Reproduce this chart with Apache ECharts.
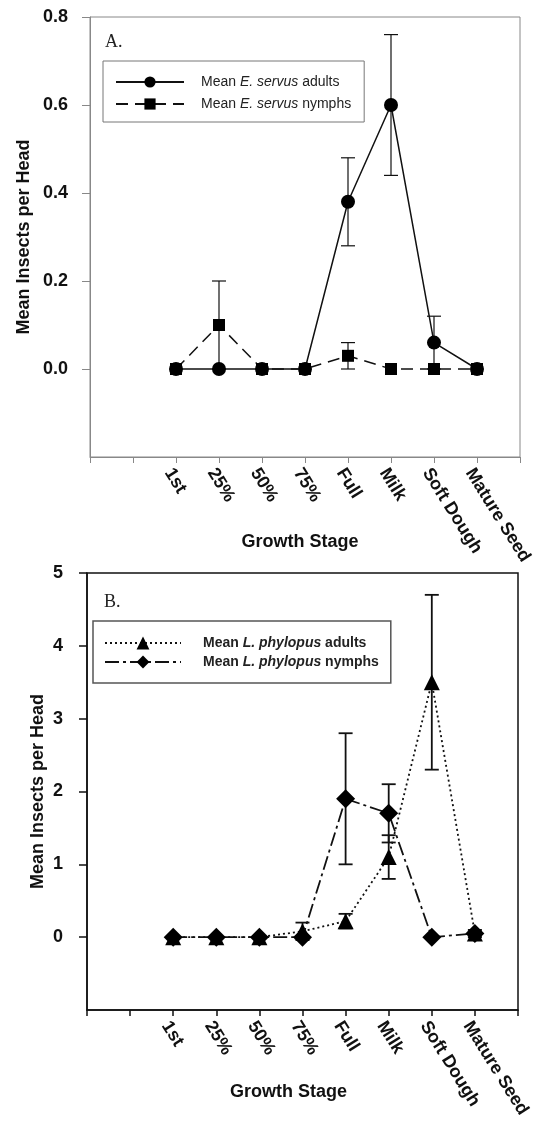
<!DOCTYPE html>
<html>
<head>
<meta charset="utf-8">
<script src="https://cdn.jsdelivr.net/npm/echarts@6/dist/echarts.min.js"></script>
<style>
  html, body { margin: 0; padding: 0; background: #fff; }
  #main { width: 542px; height: 1128px; }
</style>
</head>
<body>
<div id="main"></div>
<script>
// growth stages (two blank slots before, one after, like the original axis)
var stageNames = ['1st', '25%', '50%', '75%', 'Full', 'Milk', 'Soft Dough', 'Mature Seed'];
var axisCats = ['', ''].concat(stageNames).concat(['']);

// panel A - E. servus
var esAdults = [0, 0, 0, 0, 0.38, 0.60, 0.06, 0];
var esAdultsErr = [0, 0, 0, 0, 0.10, 0.16, 0.06, 0];
var esNymphs = [0, 0.10, 0, 0, 0.03, 0, 0, 0];
var esNymphsErr = [0, 0.10, 0, 0, 0.03, 0, 0, 0];

// panel B - L. phylopus
var lpAdults = [0, 0, 0, 0.08, 0.22, 1.1, 3.5, 0.05];
var lpAdultsErr = [0, 0, 0, 0.12, 0.10, 0.30, 1.2, 0.05];
var lpNymphs = [0, 0, 0, 0, 1.9, 1.7, 0, 0.05];
var lpNymphsErr = [0, 0, 0, 0, 0.9, 0.4, 0, 0.03];

var yTicksA = [0, 0.2, 0.4, 0.6, 0.8];
var yTicksB = [0, 1, 2, 3, 4, 5];

function pts(vals) {
  return vals.map(function (v, i) { return [i + 2, v]; });
}
function errPts(vals, errs) {
  var out = [];
  for (var i = 0; i < vals.length; i++) {
    if (errs[i] > 0) out.push([i + 2, vals[i] - errs[i], vals[i] + errs[i]]);
  }
  return out;
}

function errorBars(grid, vals, errs, lw) {
  return {
    type: 'custom',
    xAxisIndex: grid, yAxisIndex: grid,
    z: 1,
    silent: true,
    data: errPts(vals, errs),
    renderItem: function (params, api) {
      var x = api.value(0);
      var lo = api.coord([x, api.value(1)]);
      var hi = api.coord([x, api.value(2)]);
      var w = 7;
      var st = { stroke: '#111', lineWidth: lw };
      return {
        type: 'group',
        children: [
          { type: 'line', shape: { x1: lo[0], y1: lo[1], x2: hi[0], y2: hi[1] }, style: st },
          { type: 'line', shape: { x1: lo[0] - w, y1: lo[1], x2: lo[0] + w, y2: lo[1] }, style: st },
          { type: 'line', shape: { x1: hi[0] - w, y1: hi[1], x2: hi[0] + w, y2: hi[1] }, style: st }
        ]
      };
    }
  };
}

var labelFont = 'Liberation Sans, Arial, sans-serif';

function xAx(grid, gap, axisCol, lw, namePad) {
  return {
    type: 'category',
    gridIndex: grid,
    data: axisCats,
    boundaryGap: false,
    name: 'Growth Stage',
    nameLocation: 'middle',
    nameGap: gap,
    nameMoveOverlap: false,
    nameTextStyle: { fontFamily: labelFont, fontWeight: 'bold', fontSize: 18, color: '#111', padding: namePad },
    axisLine: { onZero: false, lineStyle: { color: axisCol, width: lw } },
    axisTick: { alignWithLabel: true, interval: 0, length: 6, lineStyle: { color: axisCol, width: lw } },
    axisLabel: { interval: 0, rotate: -58, margin: 8, verticalAlign: 'top', fontFamily: labelFont, fontWeight: 'bold', fontSize: 18, color: '#111' },
    splitLine: { show: false }
  };
}

function yAx(grid, ticks, dec, gap, margin, axisCol, lw) {
  var step = ticks[1] - ticks[0];
  return {
    type: 'value',
    gridIndex: grid,
    min: ticks[0] - step, max: ticks[ticks.length - 1], interval: step,
    name: 'Mean Insects per Head',
    nameLocation: 'middle',
    nameGap: gap,
    nameMoveOverlap: false,
    nameTextStyle: { fontFamily: labelFont, fontWeight: 'bold', fontSize: 18, color: '#111' },
    axisLine: { show: true, onZero: false, lineStyle: { color: axisCol, width: lw } },
    axisTick: { show: true, length: 8, customValues: ticks, lineStyle: { color: axisCol, width: lw } },
    axisLabel: {
      margin: margin, fontFamily: labelFont, fontWeight: 'bold', fontSize: 18, color: '#111',
      customValues: ticks,
      formatter: function (v) { return v.toFixed(dec); }
    },
    splitLine: { show: false }
  };
}

var myChart = echarts.init(document.getElementById('main'));
var option = {
  backgroundColor: '#fff',
  animation: false,
  title: [
    { text: 'A.', left: 100, top: 28, textStyle: { fontFamily: 'Liberation Serif, Times New Roman, serif', fontWeight: 'normal', fontSize: 18, color: '#222' } },
    { text: 'B.', left: 99, top: 588, textStyle: { fontFamily: 'Liberation Serif, Times New Roman, serif', fontWeight: 'normal', fontSize: 18, color: '#222' } }
  ],
  legend: [
    {
      data: ['Mean E. servus adults', 'Mean E. servus nymphs'],
      orient: 'vertical',
      left: 103, top: 61,
      padding: [14, 13, 11, 12],
      itemGap: 8,
      itemWidth: 68, itemHeight: 14,
      borderColor: '#777', borderWidth: 1,
      formatter: function (name) {
        var parts = name.split('E. servus');
        return '{n|' + parts[0] + '}{i|E. servus}{m|' + parts[1] + '}';
      },
      textStyle: {
        rich: {
          n: { fontFamily: labelFont, fontSize: 14, color: '#222', padding: [0, 0, 0, 12] },
          i: { fontFamily: labelFont, fontSize: 14, color: '#222', fontStyle: 'italic' },
          m: { fontFamily: labelFont, fontSize: 14, color: '#222' }
        }
      }
    },
    {
      data: ['Mean L. phylopus adults', 'Mean L. phylopus nymphs'],
      orient: 'vertical',
      left: 93, top: 621,
      padding: [15, 12, 14, 11],
      itemGap: 5,
      itemWidth: 76, itemHeight: 16,
      borderColor: '#555', borderWidth: 1.5,
      formatter: function (name) {
        var parts = name.split('L. phylopus');
        return '{n|' + parts[0] + '}{i|L. phylopus}{m|' + parts[1] + '}';
      },
      textStyle: {
        rich: {
          n: { fontFamily: labelFont, fontSize: 14, fontWeight: 'bold', color: '#222', padding: [0, 0, 0, 17] },
          i: { fontFamily: labelFont, fontSize: 14, fontWeight: 'bold', color: '#222', fontStyle: 'italic' },
          m: { fontFamily: labelFont, fontSize: 14, fontWeight: 'bold', color: '#222' }
        }
      }
    }
  ],
  grid: [
    { left: 90, top: 17, width: 430, height: 440, show: true, borderColor: '#888', borderWidth: 1, backgroundColor: 'transparent' },
    { left: 87, top: 573, width: 431, height: 437, show: true, borderColor: '#111', borderWidth: 1.5, backgroundColor: 'transparent' }
  ],
  xAxis: [
    xAx(0, 76, '#888', 1, [0, 10, 0, 0]),
    xAx(1, 73, '#111', 1.5, [0, 28, 0, 0])
  ],
  yAxis: [
    yAx(0, yTicksA, 1, 57, 22, '#888', 1),
    yAx(1, yTicksB, 0, 40, 24, '#111', 1.5)
  ],
  series: [
    errorBars(0, esAdults, esAdultsErr, 1.2),
    errorBars(0, esNymphs, esNymphsErr, 1.2),
    {
      name: 'Mean E. servus adults', type: 'line', xAxisIndex: 0, yAxisIndex: 0,
      data: pts(esAdults), z: 3,
      symbol: 'circle', symbolSize: 14,
      itemStyle: { color: '#000' },
      lineStyle: { color: '#111', width: 1.5, type: 'solid' }
    },
    {
      name: 'Mean E. servus nymphs', type: 'line', xAxisIndex: 0, yAxisIndex: 0,
      data: pts(esNymphs), z: 4,
      symbol: 'rect', symbolSize: 12,
      itemStyle: { color: '#000' },
      lineStyle: { color: '#111', width: 1.5, type: [12, 7] }
    },
    errorBars(1, lpAdults, lpAdultsErr, 1.8),
    errorBars(1, lpNymphs, lpNymphsErr, 1.8),
    {
      name: 'Mean L. phylopus adults', type: 'line', xAxisIndex: 1, yAxisIndex: 1,
      data: pts(lpAdults), z: 3,
      symbol: 'triangle', symbolSize: 16,
      itemStyle: { color: '#000' },
      lineStyle: { color: '#111', width: 1.8, type: [2, 3] }
    },
    {
      name: 'Mean L. phylopus nymphs', type: 'line', xAxisIndex: 1, yAxisIndex: 1,
      data: pts(lpNymphs), z: 4,
      symbol: 'diamond', symbolSize: 19,
      itemStyle: { color: '#000' },
      lineStyle: { color: '#111', width: 1.8, type: [14, 4, 3, 4] }
    }
  ]
};
myChart.setOption(option);
</script>
</body>
</html>
